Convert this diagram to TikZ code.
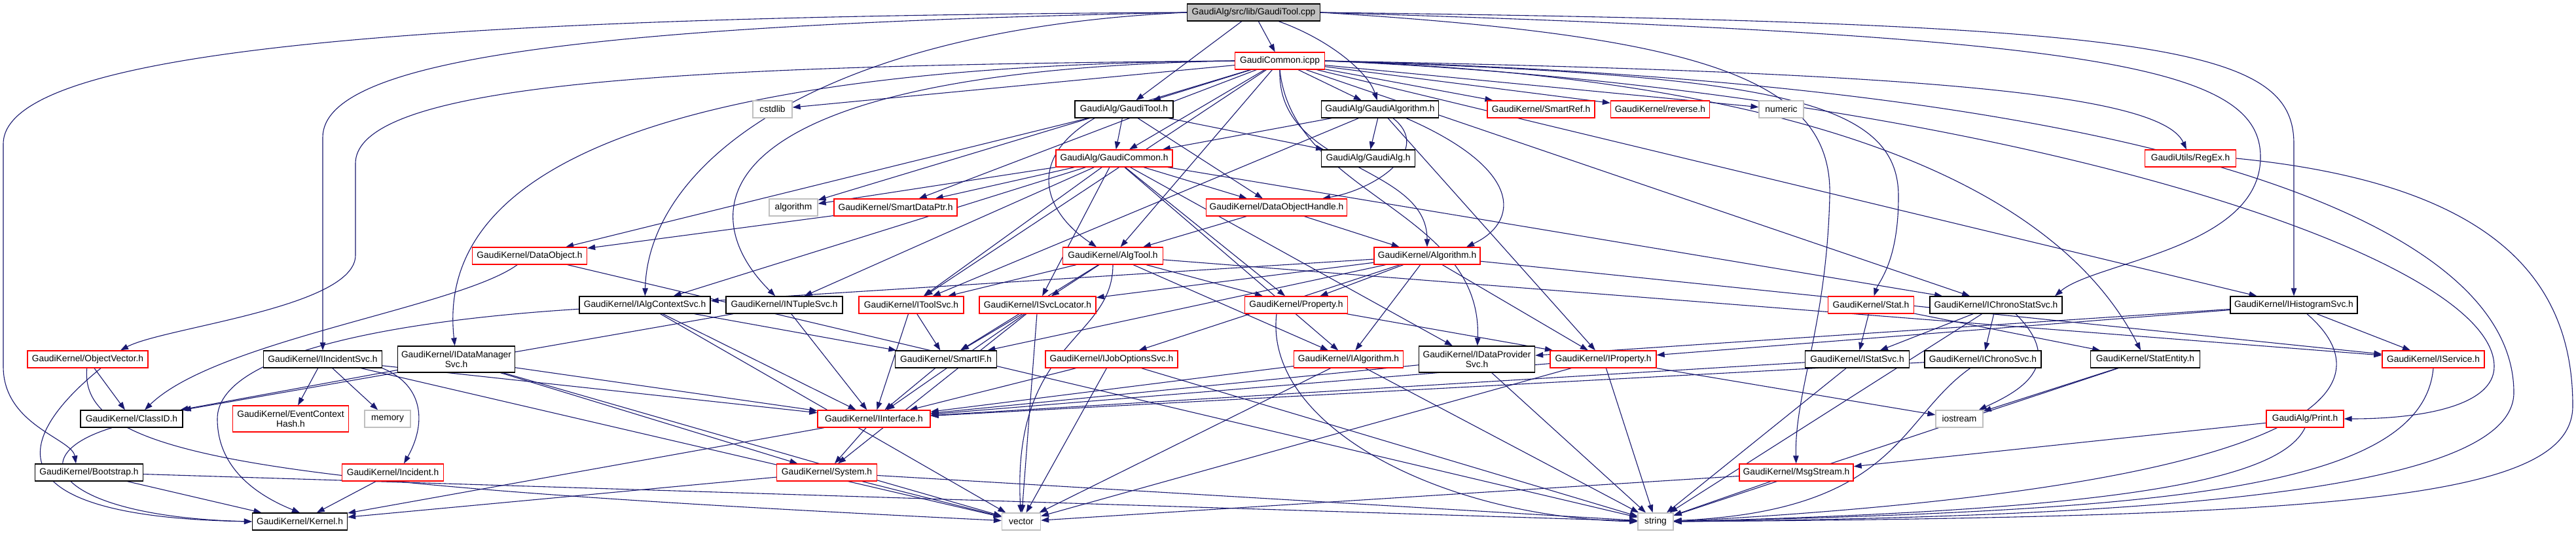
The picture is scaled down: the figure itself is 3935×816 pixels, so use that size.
\documentclass[tikz,border=0pt]{standalone}
\usepackage{fontspec}
\setmainfont{Liberation Sans}
\usetikzlibrary{arrows.meta}
\definecolor{edgeblue}{HTML}{191970}
\definecolor{grey75}{HTML}{BFBFBF}
\pgfdeclarelayer{bg}
\pgfsetlayers{bg,main}
\begin{document}
\begin{tikzpicture}[x=1pt,y=-1pt,
  nbox/.style={rectangle, draw, fill=white, inner sep=0pt, minimum height=26pt, line width=1.3pt, font=\fontsize{13.8}{15}\selectfont, align=center},
  rb/.style={nbox, draw=red},
  bb/.style={nbox, draw=black},
  gb/.style={nbox, draw=grey75},
  rootbox/.style={nbox, draw=black, fill=grey75},
  two/.style={minimum height=40pt},
  edg/.style={draw=edgeblue, line width=1.1pt, -{Triangle[length=12pt,width=8.5pt]}},
]
\useasboundingbox (0,0) rectangle (3935,816);
% nodes
\node[rootbox, minimum width=203] (cpp) at (1915,19) {GaudiAlg/src/lib/GaudiTool.cpp};
\node[rb, minimum width=137] (icpp) at (1955,93) {GaudiCommon.icpp};
\node[gb, minimum width=60] (cstdlib) at (1180,167) {cstdlib};
\node[bb, minimum width=150] (gtoolh) at (1717,167) {GaudiAlg/GaudiTool.h};
\node[bb, minimum width=179] (galgh) at (2108,167) {GaudiAlg/GaudiAlgorithm.h};
\node[rb, minimum width=164] (smartref) at (2354,167) {GaudiKernel/SmartRef.h};
\node[rb, minimum width=151] (reverse) at (2536,167) {GaudiKernel/reverse.h};
\node[gb, minimum width=68] (numeric) at (2721,167) {numeric};
\node[rb, minimum width=178] (gcommonh) at (1702,242) {GaudiAlg/GaudiCommon.h};
\node[bb, minimum width=143] (galg) at (2090,242) {GaudiAlg/GaudiAlg.h};
\node[rb, minimum width=139] (regex) at (3346,242) {GaudiUtils/RegEx.h};
\node[gb, minimum width=74] (algorithm) at (1212,317) {algorithm};
\node[rb, minimum width=188] (sdp) at (1368,317) {GaudiKernel/SmartDataPtr.h};
\node[rb, minimum width=215] (doh) at (1950,317) {GaudiKernel/DataObjectHandle.h};
\node[rb, minimum width=175] (dobj) at (809,391) {GaudiKernel/DataObject.h};
\node[rb, minimum width=153] (algtool) at (1700,391) {GaudiKernel/AlgTool.h};
\node[rb, minimum width=162] (algo) at (2180,391) {GaudiKernel/Algorithm.h};
\node[bb, minimum width=200] (iacs) at (985,466) {GaudiKernel/IAlgContextSvc.h};
\node[bb, minimum width=178] (intuple) at (1198,466) {GaudiKernel/INTupleSvc.h};
\node[rb, minimum width=160] (itool) at (1392,466) {GaudiKernel/IToolSvc.h};
\node[rb, minimum width=178] (isvcloc) at (1585,466) {GaudiKernel/ISvcLocator.h};
\node[rb, minimum width=157] (prop) at (1980,466) {GaudiKernel/Property.h};
\node[rb, minimum width=131] (stat) at (2858,466) {GaudiKernel/Stat.h};
\node[bb, minimum width=202] (icss) at (3049,466) {GaudiKernel/IChronoStatSvc.h};
\node[bb, minimum width=194] (ihist) at (3504,466) {GaudiKernel/IHistogramSvc.h};
\node[rb, minimum width=184] (objvec) at (134,549) {GaudiKernel/ObjectVector.h};
\node[bb, minimum width=181] (iinc) at (493,549) {GaudiKernel/IIncidentSvc.h};
\node[bb, two, minimum width=179] (idms) at (697,549) {GaudiKernel/IDataManager\\Svc.h};
\node[bb, minimum width=155] (smartif) at (1445,549) {GaudiKernel/SmartIF.h};
\node[rb, minimum width=202] (ijos) at (1698,549) {GaudiKernel/IJobOptionsSvc.h};
\node[rb, minimum width=167] (ialg) at (2060,549) {GaudiKernel/IAlgorithm.h};
\node[bb, two, minimum width=177] (idps) at (2256,549) {GaudiKernel/IDataProvider\\Svc.h};
\node[rb, minimum width=162] (iprop) at (2449,549) {GaudiKernel/IProperty.h};
\node[bb, minimum width=159] (istat) at (2837,549) {GaudiKernel/IStatSvc.h};
\node[bb, minimum width=178] (ichrono) at (3029,549) {GaudiKernel/IChronoSvc.h};
\node[bb, minimum width=167] (statent) at (3277,549) {GaudiKernel/StatEntity.h};
\node[rb, minimum width=156] (iservice) at (3717,549) {GaudiKernel/IService.h};
\node[bb, minimum width=156] (classid) at (201,640) {GaudiKernel/ClassID.h};
\node[rb, two, minimum width=177] (ech) at (444,640) {GaudiKernel/EventContext\\Hash.h};
\node[gb, minimum width=70] (memory) at (592,640) {memory};
\node[rb, minimum width=172] (iif) at (1335,640) {GaudiKernel/IInterface.h};
\node[gb, minimum width=72] (iostream) at (2993,640) {iostream};
\node[rb, minimum width=118] (print) at (3521,640) {GaudiAlg/Print.h};
\node[bb, minimum width=165] (boot) at (136,722) {GaudiKernel/Bootstrap.h};
\node[rb, minimum width=155] (incident) at (600,722) {GaudiKernel/Incident.h};
\node[rb, minimum width=153] (system) at (1263,722) {GaudiKernel/System.h};
\node[rb, minimum width=174] (msgs) at (2744,722) {GaudiKernel/MsgStream.h};
\node[bb, minimum width=145] (kernel) at (458,797) {GaudiKernel/Kernel.h};
\node[gb, minimum width=59] (vector) at (1560,797) {vector};
\node[gb, minimum width=54] (string) at (2529,797) {string};

\begin{pgfonlayer}{bg}
\fill[white] (0,0) rectangle (3935,816);
% GaudiTool.cpp
\draw[edg] (cpp) -- (icpp);
\draw[edg] (cpp) -- (gtoolh);
\draw[edg] (cpp) .. controls (2030,60) and (2090,110) .. (galgh);
\draw[edg] (cpp.west) .. controls (700,25) and (5,70) .. (5,220) -- (5,560) .. controls (5,650) and (110,670) .. ([xshift=-20]boot.north);
\draw[edg] (cpp.west) .. controls (900,38) and (493,90) .. (493,210) -- (iinc);
\draw[edg] (cpp.west) .. controls (1250,45) and (990,250) .. (iacs);
\draw[edg] (cpp.east) .. controls (3300,35) and (3504,70) .. (3504,220) -- (ihist);
\draw[edg] (cpp.east) .. controls (3200,55) and (3453,100) .. (3453,240) .. controls (3453,380) and (3200,400) .. ([xshift=90]icss.north);
\draw[edg] (cpp.east) .. controls (2600,55) and (2800,120) .. (2795,300) .. controls (2790,500) and (2741,600) .. (msgs);
% GaudiCommon.icpp
\draw[edg] (icpp) -- (cstdlib);
\draw[edg] (icpp) -- (algorithm);
\draw[edg] (icpp) -- (numeric);
\draw[edg] (icpp) -- (gtoolh);
\draw[edg] (icpp) -- (galgh);
\draw[edg] (icpp) -- (gcommonh);
\draw[edg] (icpp) -- (smartref);
\draw[edg] (icpp) -- (reverse);
\draw[edg] (icpp.east) .. controls (2900,110) and (3300,140) .. (regex);
\draw[edg] (icpp.east) .. controls (3000,135) and (3810,380) .. (3810,560) .. controls (3810,620) and (3700,640) .. (print);
\draw[edg] (icpp) -- (sdp);
\draw[edg] (icpp) -- (algtool);
\draw[edg] (icpp.south) .. controls (1950,260) and (2180,250) .. (algo);
\draw[edg] (icpp.east) .. controls (2700,115) and (2900,150) .. (2900,300) .. controls (2900,400) and (2870,430) .. (stat);
\draw[edg] (icpp.east) .. controls (2800,120) and (3150,300) .. (statent);
\draw[edg] (icpp.west) .. controls (1000,100) and (665,260) .. (idms);
\draw[edg] (icpp.south) .. controls (1975,300) and (2265,320) .. (idps);
\draw[edg] (icpp.west) .. controls (1050,108) and (1060,330) .. (intuple);
\draw[edg] (icpp) -- (itool);
\draw[edg] (icpp.west) .. controls (1100,100) and (543,120) .. (543,250) -- (543,390) .. controls (543,470) and (250,500) .. ([xshift=50]objvec.north);
\draw[edg] (icpp.east) .. controls (3300,125) and (3840,340) .. (3840,600) .. controls (3840,750) and (3300,790) .. (string.east);
\draw[edg] (icpp) -- (icss);
\draw[edg] (icpp) -- (ihist);
% GaudiTool.h
\draw[edg] (gtoolh) -- (gcommonh);
\draw[edg] (gtoolh) -- (galg);
\draw[edg] (gtoolh) -- (doh);
\draw[edg] (gtoolh) -- (dobj);
\draw[edg] ([xshift=-45]gtoolh.south) .. controls (1570,240) and (1590,320) .. ([xshift=-25]algtool.north);
% GaudiAlgorithm.h
\draw[edg] (galgh) -- (gcommonh);
\draw[edg] (galgh) -- (galg);
\draw[edg] ([xshift=20]galgh.south) .. controls (2190,230) and (2100,290) .. ([xshift=70]doh.north);
\draw[edg] ([xshift=40]galgh.south) .. controls (2330,260) and (2320,340) .. ([xshift=60]algo.north);
\draw[edg] (galgh) -- (itool);
\draw[edg] (galgh) -- (iprop);
% GaudiCommon.h
\draw[edg] (gcommonh) -- (algorithm);
\draw[edg] (gcommonh) -- (sdp);
\draw[edg] (gcommonh) -- (doh);
\draw[edg] (gcommonh) -- (iacs);
\draw[edg] (gcommonh) -- (intuple);
\draw[edg] (gcommonh) -- (itool);
\draw[edg] (gcommonh) -- (isvcloc);
\draw[edg] (gcommonh) -- (prop);
\draw[edg] (gcommonh) -- (icss);
\draw[edg] (gcommonh) -- (ialg);
\draw[edg] (gcommonh) -- (idps);
% SmartDataPtr, DataObjectHandle, DataObject
\draw[edg] (sdp) -- (dobj);
\draw[edg] (doh) -- (algtool);
\draw[edg] (doh) -- (algo);
\draw[edg] (dobj) .. controls (700,470) and (330,520) .. ([xshift=20]classid.north);
\draw[edg] (dobj) -- (string);
% AlgTool
\draw[edg] (algtool) -- (itool);
\draw[edg] (algtool) -- (isvcloc);
\draw[edg] (algtool) -- (prop);
\draw[edg] (algtool) -- (smartif);
\draw[edg] (algtool) -- (ialg);
\draw[edg] (algtool) -- (iservice);
\draw[edg] (algtool.south) .. controls (1700,520) and (1545,520) .. (vector);
% Algorithm
\draw[edg] (algo) -- (iacs);
\draw[edg] (algo) -- (isvcloc);
\draw[edg] (algo) -- (prop);
\draw[edg] (algo) -- (smartif);
\draw[edg] (algo) -- (ijos);
\draw[edg] (algo) -- (ialg);
\draw[edg] (algo) -- (iprop);
\draw[edg] (algo) -- (iservice);
% row G
\draw[edg] (iacs) -- (smartif);
\draw[edg] (iacs) -- (iif);
\draw[edg] (iacs) -- (vector);
\draw[edg] (iacs) .. controls (600,490) and (332,540) .. (332,640) .. controls (332,720) and (400,760) .. (kernel.north);
\draw[edg] (intuple) -- (classid);
\draw[edg] (intuple) -- (iif);
\draw[edg] (itool) -- (smartif);
\draw[edg] (itool) -- (iif);
\draw[edg] (isvcloc) -- (smartif);
\draw[edg] (isvcloc) -- (iif);
\draw[edg] (isvcloc) -- (system);
\draw[edg] (isvcloc) -- (vector);
\draw[edg] (prop) -- (iprop);
\draw[edg] ([xshift=-30]prop.south) .. controls (1930,650) and (2200,790) .. (string.west);
\draw[edg] (stat) -- (istat);
\draw[edg] (stat) -- (statent);
\draw[edg] (icss) -- (istat);
\draw[edg] (icss) -- (ichrono);
\draw[edg] ([xshift=30]icss.south) .. controls (3160,560) and (3080,600) .. (iostream);
\draw[edg] (icss) -- (string);
\draw[edg] (ihist) -- (idps);
\draw[edg] (ihist) -- (iprop);
\draw[edg] (ihist) -- (iservice);
\draw[edg] ([xshift=20]ihist.south) .. controls (3640,580) and (3600,740) .. (string.east);
% row H
\draw[edg] (objvec) -- (classid);
\draw[edg] ([xshift=20]objvec.south) .. controls (10,680) and (0,790) .. (kernel.west);
\draw[edg] (objvec) .. controls (120,700) and (400,740) .. (vector);
\draw[edg] (iinc) -- (ech);
\draw[edg] (iinc) -- (memory);
\draw[edg] (iinc.south east) .. controls (650,590) and (650,650) .. ([xshift=17]incident.north);
\draw[edg] (iinc) -- (iif);
\draw[edg] (iinc) -- (vector);
\draw[edg] (idms) -- (classid);
\draw[edg] (idms) -- (iif);
\draw[edg] (idms) -- (system);
\draw[edg] (idms) -- (vector);
\draw[edg] (smartif) -- (iif);
\draw[edg] (ijos) -- (iif);
\draw[edg] (ijos) -- (vector);
\draw[edg] (ijos) -- (string);
\draw[edg] (ialg) -- (iif);
\draw[edg] (ialg) -- (string);
\draw[edg] (ialg) -- (vector);
\draw[edg] (idps) -- (iif);
\draw[edg] (idps) -- (string);
\draw[edg] (iprop) -- (iif);
\draw[edg] (iprop) -- (iostream);
\draw[edg] (iprop) -- (string);
\draw[edg] (iprop) -- (vector);
\draw[edg] (istat) -- (iif);
\draw[edg] (istat) -- (string);
\draw[edg] (ichrono) -- (iif);
\draw[edg] (ichrono) .. controls (2900,640) and (2900,780) .. (string);
\draw[edg] (statent) -- (iostream);
\draw[edg] (statent) -- (string);
\draw[edg] (iservice.south) .. controls (3700,750) and (3300,780) .. (string.east);
% rows I-J
\draw[edg] ([xshift=-30]classid.south) .. controls (20,700) and (100,790) .. (kernel.west);
\draw[edg] (iif) -- (system);
\draw[edg] (iif) -- (kernel);
\draw[edg] (system) -- (kernel);
\draw[edg] (system) -- (vector);
\draw[edg] (system) -- (string);
\draw[edg] (incident) -- (kernel);
\draw[edg] (boot) -- (kernel);
\draw[edg] (boot) -- (string);
\draw[edg] (msgs) -- (string);
\draw[edg] (msgs) -- (vector);
\draw[edg] (print) -- (msgs);
\draw[edg] (print.south) .. controls (3480,740) and (3200,780) .. (string.east);
\draw[edg] (regex.east) .. controls (3800,280) and (3930,420) .. (3930,620) .. controls (3930,760) and (3600,790) .. (string.east);
\end{pgfonlayer}
\end{tikzpicture}
\end{document}
